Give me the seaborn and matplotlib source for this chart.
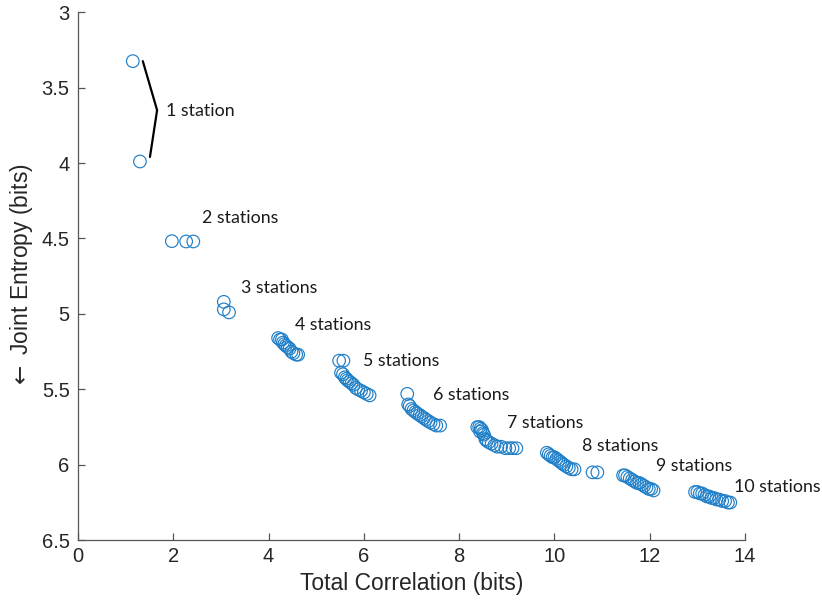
import numpy as np
import pandas as pd
import matplotlib
matplotlib.use("Agg")
import matplotlib.pyplot as plt
import seaborn as sns

# Total correlation / joint entropy for the best station subsets of each size
tc_1 = [1.15, 1.30]
h_1 = [3.325, 3.99]

tc_2 = [1.97, 2.27, 2.42]
h_2 = [4.518, 4.52, 4.52]

tc_3 = [3.06, 3.06, 3.17]
h_3 = [4.92, 4.97, 4.99]

tc_4 = [4.20, 4.24, 4.28, 4.30, 4.33, 4.36, 4.40, 4.44, 4.48, 4.52, 4.58, 4.62]
h_4 = [5.16, 5.17, 5.17, 5.19, 5.20, 5.21, 5.22, 5.23, 5.25, 5.26, 5.27, 5.27]

tc_5 = [5.48, 5.57, 5.52, 5.56, 5.60, 5.63, 5.66, 5.70, 5.74, 5.78, 5.83, 5.88,
        5.94, 6.00, 6.06, 6.12]
h_5 = [5.31, 5.31, 5.39, 5.40, 5.42, 5.43, 5.44, 5.45, 5.46, 5.47, 5.49, 5.50,
       5.51, 5.52, 5.53, 5.54]

tc_6 = [6.91, 6.93, 6.96, 7.00, 7.04, 7.08, 7.12, 7.17, 7.21, 7.26, 7.30, 7.35,
        7.40, 7.46, 7.52, 7.60]
h_6 = [5.53, 5.60, 5.61, 5.63, 5.64, 5.65, 5.66, 5.67, 5.68, 5.69, 5.70, 5.71,
       5.72, 5.73, 5.74, 5.74]

tc_7 = [8.38, 8.42, 8.45, 8.48, 8.50, 8.44, 8.52, 8.55, 8.58, 8.62, 8.68, 8.74,
        8.80, 8.88, 8.97, 9.05, 9.12, 9.20]
h_7 = [5.75, 5.75, 5.76, 5.77, 5.79, 5.78, 5.80, 5.83, 5.84, 5.85, 5.86, 5.87,
       5.88, 5.88, 5.89, 5.89, 5.89, 5.89]

tc_8 = [9.84, 9.88, 9.92, 9.96, 10.00, 10.04, 10.08, 10.12, 10.16, 10.20, 10.25,
        10.30, 10.36, 10.42, 10.80, 10.90]
h_8 = [5.92, 5.93, 5.94, 5.95, 5.95, 5.96, 5.97, 5.98, 5.99, 6.00, 6.01,
       6.02, 6.03, 6.03, 6.05, 6.05]

tc_9 = [11.44, 11.48, 11.53, 11.58, 11.63, 11.68, 11.73, 11.78, 11.83, 11.88,
        11.93, 11.98, 12.03, 12.08]
h_9 = [6.07, 6.07, 6.08, 6.09, 6.10, 6.11, 6.12, 6.12, 6.13, 6.14,
       6.15, 6.16, 6.16, 6.17]

tc_10 = [12.95, 13.00, 13.05, 13.10, 13.15, 13.20, 13.25, 13.30, 13.35, 13.40,
         13.46, 13.52, 13.58, 13.64, 13.69]
h_10 = [6.18, 6.18, 6.19, 6.19, 6.20, 6.21, 6.21, 6.22, 6.22, 6.23,
        6.23, 6.24, 6.24, 6.25, 6.25]

group_labels = ["1 station", "2 stations", "3 stations", "4 stations", "5 stations",
                "6 stations", "7 stations", "8 stations", "9 stations", "10 stations"]
label_x = [1.85, 2.60, 3.42, 4.555, 5.98, 7.45, 9.00, 10.58, 12.13, 13.77]
label_y = [3.656, 4.365, 4.83, 5.075, 5.31, 5.54, 5.725, 5.877, 6.01, 6.15]

# bracket joining the two single-station points
bracket_x = [1.36, 1.66, 1.51]
bracket_y = [3.325, 3.65, 3.96]

x_ticks = [0, 2, 4, 6, 8, 10, 12, 14]
y_ticks = [3, 3.5, 4, 4.5, 5, 5.5, 6, 6.5]

tcs = [tc_1, tc_2, tc_3, tc_4, tc_5, tc_6, tc_7, tc_8, tc_9, tc_10]
hs = [h_1, h_2, h_3, h_4, h_5, h_6, h_7, h_8, h_9, h_10]
df = pd.DataFrame({
    "tc": np.concatenate(tcs),
    "h": np.concatenate(hs),
    "n": np.concatenate([[i + 1] * len(t) for i, t in enumerate(tcs)]),
})

sns.set_theme(style="white")
plt.rcParams["font.family"] = ["Liberation Sans", "DejaVu Sans"]
plt.rcParams["mathtext.fontset"] = "dejavusans"

fig = plt.figure(figsize=(8.22, 6.05), dpi=100)
ax = fig.add_axes([0.0949, 0.107, 0.8115, 0.873])

blue = "#1f7fc8"
sns.scatterplot(data=df, x="tc", y="h", ax=ax, marker="o", s=82,
                facecolors="none", edgecolor=blue, linewidth=0.85, legend=False)

ax.plot(bracket_x, bracket_y, color="black", lw=1.6)

for txt, lx, ly in zip(group_labels, label_x, label_y):
    ax.text(lx, ly, txt, fontsize=12.8, family=["Lato", "DejaVu Sans"],
            color="#1a1a1a", ha="left", va="center")

ax.set_xlim(0, 14)
ax.set_ylim(6.5, 3)
ax.set_xticks(x_ticks)
ax.set_yticks(y_ticks)
ax.set_xticklabels([f"{v:g}" for v in x_ticks])
ax.set_yticklabels([f"{v:g}" for v in y_ticks])

axis_col = "#262626"
for side in ["top", "right"]:
    ax.spines[side].set_visible(False)
for side in ["left", "bottom"]:
    ax.spines[side].set_color("#555555")
    ax.spines[side].set_linewidth(0.9)
ax.tick_params(direction="in", length=5, width=0.9, color="#555555",
               labelsize=14.5, labelcolor=axis_col, left=True, bottom=True)
ax.tick_params(axis="x", pad=5)
ax.tick_params(axis="y", pad=6)

ax.set_xlabel("Total Correlation (bits)", fontsize=16.5, color=axis_col, labelpad=4)
ax.set_ylabel(r"$\leftarrow$ Joint Entropy (bits)", fontsize=16.5, color=axis_col,
              labelpad=5)

fig.savefig("out.png", dpi=100)
